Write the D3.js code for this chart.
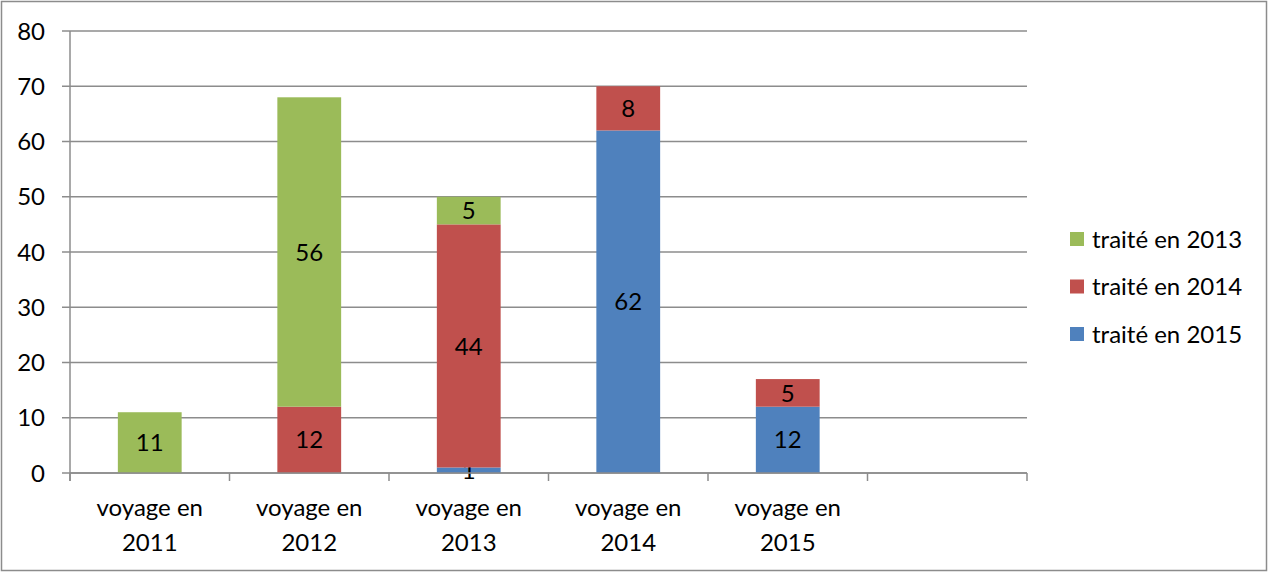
<!DOCTYPE html>
<html>
<head>
<meta charset="utf-8">
<script src="https://cdn.jsdelivr.net/npm/d3@7"></script>
<style>
  body { margin: 0; background: #fff; }
  text { font-family: Lato, "Open Sans", sans-serif; fill: #000; }
</style>
</head>
<body>
<div id="chart"></div>
<script>
// Chart data
const categories = ['voyage en 2011', 'voyage en 2012', 'voyage en 2013', 'voyage en 2014', 'voyage en 2015', ''];
const series = ['traité en 2015', 'traité en 2014', 'traité en 2013'];
const traite2015 = [0, 0, 1, 62, 12, 0];
const traite2014 = [0, 12, 44, 8, 5, 0];
const traite2013 = [11, 56, 5, 0, 0, 0];
const yTicks = [0, 10, 20, 30, 40, 50, 60, 70, 80];
const colors = { 'traité en 2013': '#9BBB59', 'traité en 2014': '#C0504D', 'traité en 2015': '#4F81BD' };

const W = 1269;
const H = 572;
const plot = { left: 70, right: 1027, top: 31, bottom: 473 };
const fontSize = 24;

const svg = d3.select('#chart')
  .append('svg')
  .attr('width', W)
  .attr('height', H);

// Outer frame
svg.append('rect')
  .attr('x', 1.5).attr('y', 1.5)
  .attr('width', W - 4).attr('height', H - 3)
  .attr('fill', '#fff')
  .attr('stroke', '#8c8c8c')
  .attr('stroke-width', 1.5);

const x = d3.scaleBand()
  .domain(d3.range(categories.length))
  .range([plot.left, plot.right])
  .padding(0);

const y = d3.scaleLinear()
  .domain([0, 80])
  .range([plot.bottom, plot.top]);

// Gridlines + y labels
svg.append('g')
  .selectAll('line')
  .data(yTicks)
  .join('line')
  .attr('x1', plot.left - 8)
  .attr('x2', plot.right)
  .attr('y1', (d) => y(d))
  .attr('y2', (d) => y(d))
  .attr('stroke', '#8c8c8c')
  .attr('stroke-width', 1.5);

svg.append('g')
  .selectAll('text')
  .data(yTicks)
  .join('text')
  .attr('x', 45)
  .attr('y', (d) => y(d))
  .attr('dy', '0.36em')
  .attr('text-anchor', 'end')
  .attr('font-size', fontSize)
  .text((d) => d);

// Stacked bars
const table = categories.map((c, i) => ({
  i,
  'traité en 2015': traite2015[i],
  'traité en 2014': traite2014[i],
  'traité en 2013': traite2013[i],
}));
const stacked = d3.stack().keys(series)(table);
const barW = x.bandwidth() * 0.4;

const layers = svg.append('g')
  .selectAll('g')
  .data(stacked)
  .join('g')
  .attr('fill', (d) => colors[d.key]);

layers.selectAll('rect')
  .data((d) => d.filter((p) => p[1] - p[0] > 0))
  .join('rect')
  .attr('x', (d) => x(d.data.i) + (x.bandwidth() - barW) / 2)
  .attr('width', barW)
  .attr('y', (d) => y(d[1]))
  .attr('height', (d) => y(d[0]) - y(d[1]));

// x axis line and ticks
svg.append('line')
  .attr('x1', plot.left).attr('x2', plot.right)
  .attr('y1', plot.bottom).attr('y2', plot.bottom)
  .attr('stroke', '#8c8c8c').attr('stroke-width', 1.5);
svg.append('line')
  .attr('x1', plot.left).attr('x2', plot.left)
  .attr('y1', plot.top).attr('y2', plot.bottom + 8)
  .attr('stroke', '#8c8c8c').attr('stroke-width', 1.5);
svg.append('g')
  .selectAll('line')
  .data(d3.range(categories.length + 1))
  .join('line')
  .attr('x1', (d) => plot.left + d * x.step())
  .attr('x2', (d) => plot.left + d * x.step())
  .attr('y1', plot.bottom)
  .attr('y2', plot.bottom + 8)
  .attr('stroke', '#8c8c8c')
  .attr('stroke-width', 1.5);

// Data labels
layers.selectAll('text')
  .data((d) => d.filter((p) => p[1] - p[0] > 0))
  .join('text')
  .attr('x', (d) => x(d.data.i) + x.bandwidth() / 2)
  .attr('y', (d) => y((d[0] + d[1]) / 2))
  .attr('dy', '0.36em')
  .attr('text-anchor', 'middle')
  .attr('font-size', fontSize)
  .text((d) => d[1] - d[0]);

// Category labels (two lines)
svg.append('g')
  .selectAll('text')
  .data(categories)
  .join('text')
  .attr('text-anchor', 'middle')
  .attr('font-size', fontSize)
  .attr('x', (d, i) => x(i) + x.bandwidth() / 2)
  .attr('y', 516)
  .each(function (d) {
    const parts = d.split(/ (?=\d)/);
    const t = d3.select(this);
    parts.forEach((p, k) => {
      t.append('tspan')
        .attr('x', t.attr('x'))
        .attr('dy', k === 0 ? 0 : 35)
        .text(p);
    });
  });

// Legend
const legend = svg.append('g')
  .selectAll('g')
  .data(series.slice().reverse())
  .join('g')
  .attr('transform', (d, i) => `translate(1070,${232 + i * 47.5})`);
legend.append('rect')
  .attr('width', 14).attr('height', 14)
  .attr('fill', (d) => colors[d]);
legend.append('text')
  .attr('x', 22).attr('y', 7)
  .attr('dy', '0.36em')
  .attr('font-size', fontSize)
  .text((d) => d);
</script>
</body>
</html>
